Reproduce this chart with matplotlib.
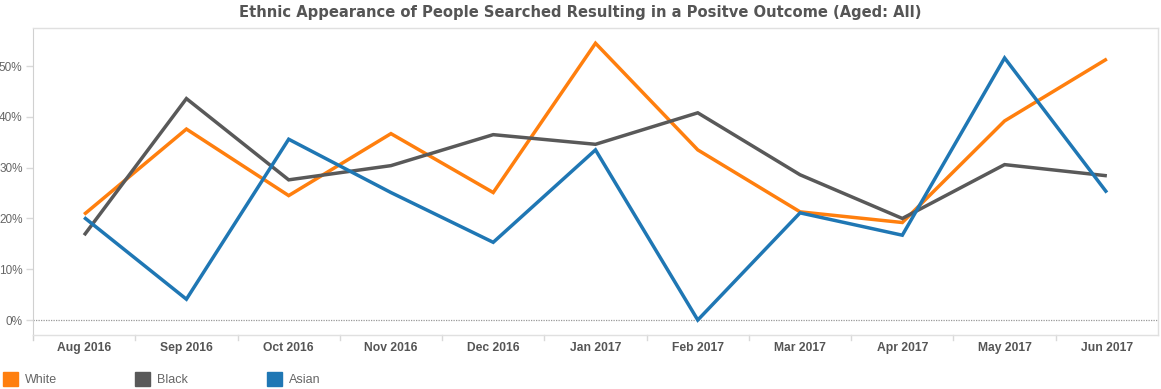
import matplotlib
matplotlib.use("Agg")
import matplotlib.pyplot as plt
from matplotlib.patches import Rectangle
from matplotlib.ticker import FuncFormatter, FixedLocator

months = ["Aug 2016", "Sep 2016", "Oct 2016", "Nov 2016", "Dec 2016", "Jan 2017",
          "Feb 2017", "Mar 2017", "Apr 2017", "May 2017", "Jun 2017"]
white = [20.8, 37.6, 24.5, 36.7, 25.1, 54.5, 33.5, 21.3, 19.2, 39.2, 51.4]
black = [16.7, 43.6, 27.6, 30.4, 36.5, 34.6, 40.8, 28.6, 20.0, 30.6, 28.4]
asian = [20.2, 4.1, 35.6, 25.1, 15.3, 33.5, 0.0, 21.1, 16.7, 51.6, 25.1]
series = [("White", white, "#ff7f0e"), ("Black", black, "#595959"), ("Asian", asian, "#1f77b4")]
title = "Ethnic Appearance of People Searched Resulting in a Positve Outcome (Aged: All)"

W, H = 1161, 389
fig = plt.figure(figsize=(W / 100, H / 100), dpi=100)
ax = fig.add_axes([33 / W, 1 - 335 / H, (1158 - 33) / W, (335 - 28) / H])

x = list(range(len(months)))
for name, vals, col in series:
    ax.plot(x, vals, color=col, lw=2.5, solid_joinstyle="miter", solid_capstyle="butt", zorder=3)

ax.set_xlim(-0.5, len(months) - 0.5)
ax.set_ylim(-2.95, 57.5)
ax.axhline(0, color="#999999", lw=0.9, ls=(0, (1, 1)), zorder=2)

ax.yaxis.set_major_locator(FixedLocator([0, 10, 20, 30, 40, 50]))
ax.yaxis.set_major_formatter(FuncFormatter(lambda v, p: f"{int(v)}%"))
ax.tick_params(axis="y", length=5, width=1, color="#d9d9d9", labelsize=8.5,
               labelcolor="#666666", pad=2.5)
for t in ax.get_yticklabels():
    t.set_family("Liberation Sans")

ax.set_xticks(x)
ax.set_xticklabels(months, fontsize=8.7, fontweight="bold", color="#555555",
                   family="Liberation Sans")
ax.tick_params(axis="x", length=0, pad=5)
# category separators
for b in range(1, len(months)):
    ax.plot([b - 0.5, b - 0.5], [0, -0.016], transform=ax.get_xaxis_transform(),
            color="#d9d9d9", lw=1, clip_on=False)

for side in ["top", "right", "bottom"]:
    ax.spines[side].set_color("#e0e0e0")
    ax.spines[side].set_linewidth(1)
ax.spines["left"].set_color("#d0d0d0")
ax.plot([0, 0], [0, -0.015], transform=ax.transAxes, color="#d0d0d0", lw=1, clip_on=False)

fig.text(580 / W, 1 - 13 / H, title, ha="center", va="center", fontsize=10.6,
         fontweight="bold", color="#555555", family="DejaVu Sans")

# legend
for i, (name, vals, col) in enumerate(series):
    x0 = 3 + i * 132
    fig.patches.append(Rectangle((x0 / W, 1 - 386 / H), 15 / W, 14 / H,
                                 transform=fig.transFigure, color=col))
    fig.text((x0 + 22) / W, 1 - 380 / H, name, ha="left", va="center", fontsize=9,
             color="#666666", family="Liberation Sans")

fig.savefig("out.png", dpi=100)
